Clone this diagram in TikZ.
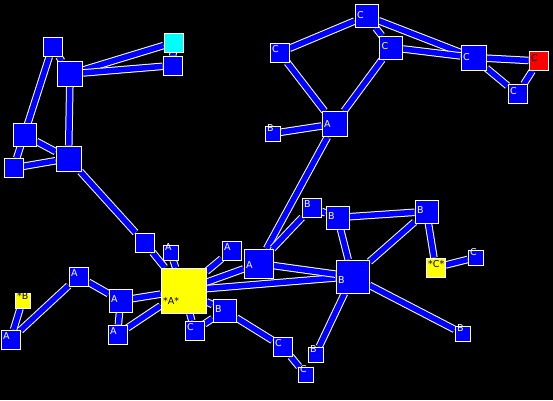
\documentclass[tikz,border=0pt]{standalone}
\usepackage{fontspec}
\setsansfont{DejaVu Sans}
\usetikzlibrary{backgrounds}
\definecolor{nodeblue}{RGB}{0,0,255}
\definecolor{aqua}{RGB}{0,255,255}
\definecolor{hotred}{RGB}{255,0,0}
\definecolor{lemon}{RGB}{255,255,0}

\begin{document}
\begin{tikzpicture}[x=1pt, y=-1pt]
\tikzset{vtx/.style={draw=white, line width=1pt, fill=nodeblue, inner sep=0pt, minimum size=#1}}
\tikzset{lbl/.style={anchor=west, xshift=2.5pt, yshift=13pt, inner sep=0pt, text=white, font=\sffamily\fontsize{9.5}{9.5}\selectfont}}
\tikzset{tag/.style={label={[lbl]south west:#1}}}
\tikzset{tagk/.style={label={[lbl,text=black]south west:#1}}}
\tikzset{link/.style={draw=white, line width=1pt, double=nodeblue, double distance=5.5pt}}

% upper left group
\node[vtx=19] (u1) at (52.5,46.5) {};
\node[vtx=25] (u2) at (70,74) {};
\node[vtx=19, fill=aqua] (u3) at (173.5,42.5) {};
\node[vtx=19] (u4) at (172.5,65.5) {};
\node[vtx=23] (u5) at (24.5,135) {};
\node[vtx=19] (u6) at (13.5,168) {};
\node[vtx=25] (u7) at (68.5,158.5) {};
\node[vtx=19] (u8) at (144.5,242.5) {};

% C group
\node[vtx=23, tag=C] (c1) at (366.5,16) {};
\node[vtx=19, tag=C] (c2) at (279.5,52.5) {};
\node[vtx=23, tag=C] (c3) at (391,47.5) {};
\node[vtx=25, tag=C] (c4) at (473.5,57.5) {};
\node[vtx=19, fill=hotred, tagk=C] (c5) at (538.5,61) {};
\node[vtx=19, tag=C] (c6) at (517.5,94) {};
\node[vtx=25, tag=A] (a1) at (334.5,124) {};
\node[vtx=15, tag=B] (b1) at (272.5,133.5) {};

% A group
\node[vtx=45, fill=lemon, tagk=*A*] (a0) at (183.5,290.5) {};
\node[vtx=15, tag=A] (a2) at (170.5,252.5) {};
\node[vtx=19, tag=A] (a3) at (231.5,250.5) {};
\node[vtx=29, tag=A] (a4) at (258.5,263.5) {};
\node[vtx=23, tag=A] (a5) at (120.5,300.5) {};
\node[vtx=19, tag=A] (a6) at (78.5,276.5) {};
\node[vtx=19, tag=A] (a7) at (10.5,339.5) {};
\node[vtx=19, tag=A] (a8) at (117.5,334.5) {};
\node[vtx=15, fill=lemon, tagk=*B] (b0) at (22.5,300.5) {};
\node[vtx=19, tag=C] (c7) at (194.5,330.5) {};
\node[vtx=23, tag=B] (b2) at (224.5,310.5) {};
\node[vtx=19, tag=C] (c8) at (282.5,346.5) {};
\node[vtx=15, tag=C] (c9) at (305.5,374.5) {};

% B group
\node[vtx=33, tag=B] (b3) at (352.5,276.5) {};
\node[vtx=19, tag=B] (b4) at (311.5,207.5) {};
\node[vtx=23, tag=B] (b5) at (337.5,217.5) {};
\node[vtx=23, tag=B] (b6) at (426.5,211.5) {};
\node[vtx=15, tag=B] (b7) at (462.5,333.5) {};
\node[vtx=15, tag=B] (b8) at (315.5,354.5) {};
\node[vtx=19, fill=lemon, tagk=*C*] (c0) at (435.5,267.5) {};
\node[vtx=15, tag=C] (c10) at (475.5,257.5) {};

\begin{pgfonlayer}{background}
\fill[black] (0,0) rectangle (553,400);
\draw[link] (u1) -- (u2);
\draw[link] (u1) -- (u6);
\draw[link] (u2) -- (u3);
\draw[link] (u2) -- (u4);
\draw[link] (u3) -- (u4);
\draw[link] (u2) -- (u7);
\draw[link] (u5) -- (u7);
\draw[link] (u6) -- (u7);
\draw[link] (u7) -- (u8);
\draw[link] (u8) -- (a0);
\draw[link] (c1) -- (c2);
\draw[link] (c1) -- (c3);
\draw[link] (c1) -- (c4);
\draw[link] (c3) -- (c4);
\draw[link] (c4) -- (c5);
\draw[link] (c4) -- (c6);
\draw[link] (c6) -- (c5);
\draw[link] (c2) -- (a1);
\draw[link] (c3) -- (a1);
\draw[link] (b1) -- (a1);
\draw[link] (a1) -- (a4);
\draw[link] (a2) -- (a0);
\draw[link] (a3) -- (a0);
\draw[link] (a4) -- (a0);
\draw[link] (b3) -- (a0);
\draw[link] (a5) -- (a0);
\draw[link] (a8) -- (a0);
\draw[link] (a5) -- (a8);
\draw[link] (a6) -- (a5);
\draw[link] (a6) -- (a7);
\draw[link] (b0) -- (a7);
\draw[link] (a0) -- (c7);
\draw[link] (a0) -- (b2);
\draw[link] (b2) -- (c7);
\draw[link] (b2) -- (c8);
\draw[link] (c8) -- (c9);
\draw[link] (a4) -- (b4);
\draw[link] (b4) -- (b5);
\draw[link] (b5) -- (b6);
\draw[link] (b5) -- (b3);
\draw[link] (a4) -- (b3);
\draw[link] (b3) -- (b6);
\draw[link] (b6) -- (c0);
\draw[link] (c0) -- (c10);
\draw[link] (b3) -- (b7);
\draw[link] (b3) -- (b8);
\end{pgfonlayer}
\end{tikzpicture}
\end{document}
